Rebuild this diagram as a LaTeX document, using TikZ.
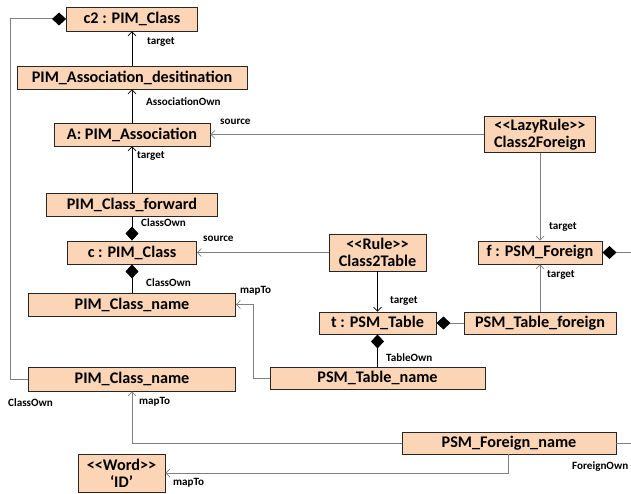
\documentclass[tikz,border=0pt]{standalone}
\usepackage{fontspec}
\setmainfont{Carlito}
\usetikzlibrary{arrows.meta}
\definecolor{peach}{HTML}{FBD5B5}
\definecolor{linegray}{HTML}{808080}
\newcommand\stereo[1]{<\kern0pt<#1>\kern0pt>}
\begin{document}
\begin{tikzpicture}[x=1pt,y=-1pt,
  cls/.style={draw=black!85, line width=0.9pt, fill=peach, inner sep=0pt,
    font=\fontsize{16.2}{17}\selectfont\bfseries, align=center},
  lbl/.style={inner sep=0pt, anchor=west, font=\fontsize{11.1}{12}\selectfont\bfseries},
  dk/.style={draw=black, line width=0.8pt},
  gr/.style={draw=linegray, line width=1pt},
  nav/.style={-{Straight Barb[length=4pt,width=8pt,line width=0.7pt]}},
  comp/.style={{Diamond[length=14pt,width=13pt,color=black]}-}
]
\useasboundingbox (0,0) rectangle (631,494);

% class boxes
\node[cls, minimum width=131pt, minimum height=24pt] (c2)   at (132,19)    {c2 : PIM\_Class};
\node[cls, minimum width=230pt, minimum height=23pt] (dest) at (132,77.5)  {PIM\_Association\_desitination};
\node[cls, minimum width=156pt, minimum height=23pt] (A)    at (132,134.5) {A: PIM\_Association};
\node[cls, minimum width=171pt, minimum height=23pt] (fwd)  at (132,204.5) {PIM\_Class\_forward};
\node[cls, minimum width=129pt, minimum height=23pt] (c)    at (132,252.5) {c : PIM\_Class};
\node[cls, minimum width=207pt, minimum height=23pt] (nameA) at (132,304.5) {PIM\_Class\_name};
\node[cls, minimum width=207pt, minimum height=24pt] (nameB) at (132,379)  {PIM\_Class\_name};
\node[cls, minimum width=87pt,  minimum height=38pt] (word) at (121.5,473) {\stereo{Word}\\‘ID’};

\node[cls, minimum width=111pt, minimum height=36pt] (lazy) at (540,134.5) {\stereo{LazyRule}\\Class2Foreign};
\node[cls, minimum width=124pt, minimum height=23pt] (fk)   at (540,252.5) {f : PSM\_Foreign};
\node[cls, minimum width=152pt, minimum height=22pt] (tfk)  at (540,323)   {PSM\_Table\_foreign};

\node[cls, minimum width=97pt,  minimum height=37pt] (rule) at (377.5,252.5) {\stereo{Rule}\\Class2Table};
\node[cls, minimum width=117pt, minimum height=22pt] (tab)  at (377.5,323)   {t : PSM\_Table};
\node[cls, minimum width=215pt, minimum height=22pt] (tname) at (377.5,378)  {PSM\_Table\_name};
\node[cls, minimum width=214pt, minimum height=22pt] (fname) at (509,443)    {PSM\_Foreign\_name};

% loose ends running off the right side
\coordinate (fkout) at (631,252.5);
\coordinate (fnout) at (631,443);

% source model links
\draw[dk, nav] (dest) -- (c2);
\draw[dk, nav] (A) -- (dest);
\draw[dk, nav] (fwd) -- (A);
\draw[dk, comp] (c) -- (fwd);
\draw[dk, comp] (c) -- (nameA);
\draw[gr, comp] (c2.west) -| (10,379) -- (nameB.west);

% rules
\draw[gr, nav] (lazy) -- (A);
\draw[gr, nav] (lazy) -- (fk);
\draw[gr, nav] (rule) -- (c);
\draw[dk, nav] (rule) -- (tab);

% target model links
\draw[gr, comp] (tab) -- (tfk);
\draw[gr, nav] (tfk) -- (fk);
\draw[dk, comp] (tab) -- (tname);
\draw[gr, comp] (fk.east) -- (fkout);
\draw[gr] (fname.east) -- (fnout);

% mappings
\draw[gr, nav] (tname.west) -- (253,378) |- (nameA.east);
\draw[gr, nav] (fname.west) -| (nameB.south);
\draw[gr, nav] (508,454) |- (word.east);

% role labels
\node[lbl] (l1)  at (147,42)  {target};
\node[lbl] (l2)  at (146,102) {AssociationOwn};
\node[lbl] (l3)  at (220,122) {source};
\node[lbl] (l4)  at (137,156) {target};
\node[lbl] (l5)  at (141,223) {ClassOwn};
\node[lbl] (l6)  at (203,239) {source};
\node[lbl] (l7)  at (146,283) {ClassOwn};
\node[lbl] (l8)  at (240,291) {mapTo};
\node[lbl] (l9)  at (8,403)   {ClassOwn};
\node[lbl] (l10) at (139,402) {mapTo};
\node[lbl] (l11) at (173,483) {mapTo};
\node[lbl] (l12) at (572,467) {ForeignOwn};
\node[lbl] (l13) at (386,358) {TableOwn};
\node[lbl] (l14) at (390,301) {target};
\node[lbl] (l15) at (547,275) {target};
\node[lbl] (l16) at (549,227) {target};
\end{tikzpicture}
\end{document}
